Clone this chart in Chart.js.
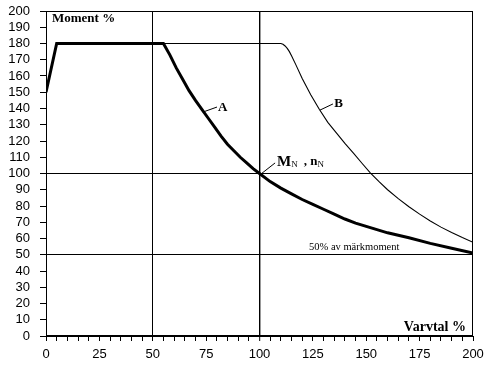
<!DOCTYPE html>
<html>
<head>
<meta charset="utf-8">
<script src="https://cdn.jsdelivr.net/npm/chart.js@4/dist/chart.umd.min.js"></script>
<style>
  html, body { margin: 0; padding: 0; background: #fff; overflow: hidden; }
  #wrap { width: 491px; height: 365px; }
</style>
</head>
<body>
<div id="wrap"><canvas id="momentChart" width="491" height="365"></canvas></div>
<script>
// Curve A: speed (%) and torque (%)
const speedA  = [0, 5, 55, 58, 61, 64, 67, 70, 73, 76, 79, 82, 85, 88, 91, 94, 97, 100,
                 105, 110, 115, 120, 125, 130, 135, 140, 145, 150, 160, 170, 180, 190, 200];
const momentA = [150, 180, 180, 173, 165, 158, 151, 145, 139.5, 134, 128.5, 123, 118, 114, 110, 106.5, 103, 100,
                 95, 91, 87.5, 84, 81, 78, 75, 72, 69.5, 67.5, 63.5, 60.5, 57, 54, 51];

// Curve B
const speedB  = [55, 110, 111, 112, 113, 114, 115, 117, 120, 124, 128, 132, 136, 140, 144, 148, 152,
                 156, 160, 165, 170, 175, 180, 185, 190, 195, 200];
const momentB = [180, 180, 179.5, 178.5, 177, 175, 172.5, 167, 158.5, 148.5, 139.5, 131.5, 125, 118.5, 112.5, 106.3, 100.3,
                 95, 90, 84.5, 79.5, 75, 70.8, 67, 63.7, 60.6, 57.7];

// axis ticks
const xLabelTicks = [0, 25, 50, 75, 100, 125, 150, 175, 200];
const xGridLines = [50, 100];
const yGridLines = [50, 100];

const toPoints = (xs, ys) => xs.map((x, i) => ({ x: x, y: ys[i] }));

// Texts and leader lines placed in data coordinates
const annotations = {
    id: 'annotations',
    afterDatasetsDraw(chart) {
        const { ctx, chartArea, scales: { x, y } } = chart;
        const px = v => x.getPixelForValue(v);
        const py = v => y.getPixelForValue(v);
        ctx.save();

        // frame
        ctx.strokeStyle = '#000';
        ctx.lineWidth = 1;
        ctx.strokeRect(chartArea.left + 0.5, chartArea.top + 0.5,
            chartArea.right - chartArea.left - 1, chartArea.bottom - chartArea.top - 1);

        const line = (x1, y1, x2, y2) => {
            ctx.beginPath();
            ctx.moveTo(px(x1), py(y1));
            ctx.lineTo(px(x2), py(y2));
            ctx.stroke();
        };

        ctx.fillStyle = '#000';
        ctx.textBaseline = 'middle';

        ctx.font = 'bold 13px "Liberation Serif", "Times New Roman", serif';
        ctx.textAlign = 'left';
        ctx.fillText('Moment %', px(2.8), py(195));

        ctx.font = 'bold 14px "Liberation Serif", "Times New Roman", serif';
        ctx.textAlign = 'right';
        ctx.fillText('Varvtal %', px(196.7), py(5.5));

        // A
        ctx.lineWidth = 1;
        line(73.5, 137.8, 80.1, 140.9);
        ctx.font = 'bold 13px "Liberation Serif", "Times New Roman", serif';
        ctx.textAlign = 'left';
        ctx.fillText('A', px(80.6), py(140.5));

        // B
        line(128.3, 139, 134.4, 142.8);
        ctx.fillText('B', px(135), py(143.2));

        // MN , nN
        line(100.7, 99.7, 107.3, 106.5);
        let cx = px(108.2);
        const cy = py(107);
        ctx.font = 'bold 15px "Liberation Serif", "Times New Roman", serif';
        ctx.fillText('M', cx, cy);
        cx += ctx.measureText('M').width;
        ctx.font = '9px "Liberation Serif", "Times New Roman", serif';
        ctx.fillText('N', cx, cy + 3);
        cx += ctx.measureText('N').width + 6;
        ctx.font = 'bold 13px "Liberation Serif", "Times New Roman", serif';
        ctx.fillText(', n', cx, cy);
        cx += ctx.measureText(', n').width;
        ctx.font = '9px "Liberation Serif", "Times New Roman", serif';
        ctx.fillText('N', cx, cy + 3);

        ctx.font = '10.5px "Liberation Serif", "Times New Roman", serif';
        ctx.fillText('50% av märkmoment', px(123.2), py(54.8));

        ctx.restore();
    }
};

const ctx = document.getElementById('momentChart').getContext('2d');
new Chart(ctx, {
    type: 'scatter',
    data: {
        datasets: [
            {
                label: 'A',
                data: toPoints(speedA, momentA),
                showLine: true,
                borderColor: '#000',
                borderWidth: 3,
                pointRadius: 0,
                tension: 0
            },
            {
                label: 'B',
                data: toPoints(speedB, momentB),
                showLine: true,
                borderColor: '#000',
                borderWidth: 1.1,
                pointRadius: 0,
                tension: 0
            }
        ]
    },
    options: {
        responsive: false,
        animation: false,
        layout: { padding: { top: 11, right: 18, left: 0, bottom: 0 } },
        plugins: {
            legend: { display: false },
            tooltip: { enabled: false }
        },
        scales: {
            x: {
                type: 'linear',
                min: 0,
                max: 200,
                afterFit: scale => { scale.height = 29; },
                border: { display: true, color: '#000', width: 1 },
                grid: {
                    color: c => xGridLines.includes(c.tick.value) ? '#000' : 'rgba(0,0,0,0)',
                    lineWidth: c => c.tick.value === 100 ? 1.4 : 1,
                    tickColor: '#000',
                    tickLength: 5,
                    tickWidth: 1
                },
                ticks: {
                    stepSize: 5,
                    autoSkip: false,
                    maxRotation: 0,
                    padding: 6,
                    color: '#000',
                    font: { family: '"Liberation Sans", Arial, sans-serif', size: 13 },
                    callback: v => xLabelTicks.includes(v) ? String(v) : ''
                }
            },
            y: {
                type: 'linear',
                min: 0,
                max: 200,
                afterFit: scale => {
                    scale.width = 46;
                    scale.paddingTop = 0;
                    scale.paddingBottom = 0;
                },
                border: { display: true, color: '#000', width: 1 },
                grid: {
                    color: c => yGridLines.includes(c.tick.value) ? '#000' : 'rgba(0,0,0,0)',
                    tickColor: '#000',
                    tickLength: 6,
                    tickWidth: 1
                },
                ticks: {
                    stepSize: 10,
                    autoSkip: false,
                    padding: 10,
                    color: '#000',
                    font: { family: '"Liberation Sans", Arial, sans-serif', size: 13 }
                }
            }
        }
    },
    plugins: [annotations]
});
</script>
</body>
</html>
